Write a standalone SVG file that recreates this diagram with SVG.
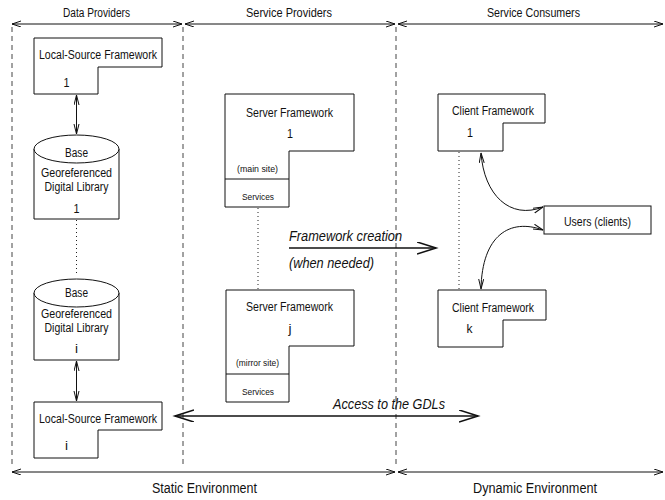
<svg xmlns="http://www.w3.org/2000/svg" width="665" height="500" viewBox="0 0 665 500">
<defs>
<style>
text{font-family:"Liberation Sans",Arial,sans-serif;fill:#111;text-anchor:middle}
.hd{font-size:12px}
.tt{font-size:12.5px}
.cy{font-size:12.5px}
.sm{font-size:9.5px}
.it{font-size:14.5px;font-style:italic;text-anchor:start}
.env{font-size:15.5px}
.box{fill:#fff;stroke:#111;stroke-width:1}
.ln{fill:none;stroke:#111;stroke-width:1}
.big{fill:none;stroke:#111;stroke-width:1.6}
.dash{fill:none;stroke:#444;stroke-width:1;stroke-dasharray:5 4}
.dot{fill:none;stroke:#222;stroke-width:1;stroke-dasharray:1 3}
</style>
<marker id="ms" markerUnits="userSpaceOnUse" markerWidth="12" markerHeight="8" refX="9" refY="3" orient="auto-start-reverse"><path d="M0,0 L9,3 L0,6" fill="none" stroke="#111" stroke-width="1"/></marker>
<marker id="mv" markerUnits="userSpaceOnUse" markerWidth="12" markerHeight="8" refX="10" refY="3" orient="auto-start-reverse"><path d="M0,0.5 L10,3 L0,5.5" fill="none" stroke="#111" stroke-width="1"/></marker>
<marker id="mb" markerUnits="userSpaceOnUse" markerWidth="22" markerHeight="14" refX="19" refY="6" orient="auto-start-reverse"><path d="M0,0 L19,6 L0,12" fill="none" stroke="#111" stroke-width="1.6"/></marker>
</defs>

<g id="frame">
<line class="dash" x1="12" y1="27" x2="12" y2="468"/>
<line class="dash" x1="183" y1="27" x2="183" y2="468"/>
<line class="dash" x1="396" y1="27" x2="396" y2="468"/>
<text class="hd" x="96.5" y="17" textLength="67" lengthAdjust="spacingAndGlyphs">Data Providers</text>
<text class="hd" x="289" y="17" textLength="86" lengthAdjust="spacingAndGlyphs">Service Providers</text>
<text class="hd" x="533.5" y="17" textLength="93" lengthAdjust="spacingAndGlyphs">Service Consumers</text>
<text class="env" x="204.5" y="493" textLength="105" lengthAdjust="spacingAndGlyphs">Static Environment</text>
<text class="env" x="535" y="493" textLength="124" lengthAdjust="spacingAndGlyphs">Dynamic Environment</text>
</g>

<g id="lsf1">
<path class="box" d="M34,38 H162 V67 H98 V94 H34 Z"/>
<text class="tt" x="98" y="59" textLength="118" lengthAdjust="spacingAndGlyphs">Local-Source Framework</text>
<text class="tt" x="66.5" y="87" textLength="6" lengthAdjust="spacingAndGlyphs">1</text>
</g>

<g id="gdl1">
<path class="box" d="M34,149 V219 H119 V149"/>
<ellipse class="box" cx="76.5" cy="149" rx="42.5" ry="14"/>
<text class="cy" x="76.5" y="157" textLength="23" lengthAdjust="spacingAndGlyphs">Base</text>
<text class="cy" x="76.5" y="177" textLength="71" lengthAdjust="spacingAndGlyphs">Georeferenced</text>
<text class="cy" x="76.5" y="191" textLength="64" lengthAdjust="spacingAndGlyphs">Digital Library</text>
<text class="tt" x="76.5" y="213" textLength="6" lengthAdjust="spacingAndGlyphs">1</text>
</g>

<g id="gdli">
<path class="box" d="M34,293 V360 H119 V293"/>
<ellipse class="box" cx="76.5" cy="293" rx="42.5" ry="14"/>
<text class="cy" x="76.5" y="297" textLength="23" lengthAdjust="spacingAndGlyphs">Base</text>
<text class="cy" x="76.5" y="318" textLength="71" lengthAdjust="spacingAndGlyphs">Georeferenced</text>
<text class="cy" x="76.5" y="332" textLength="64" lengthAdjust="spacingAndGlyphs">Digital Library</text>
<text class="tt" x="76.5" y="353" textLength="3" lengthAdjust="spacingAndGlyphs">i</text>
</g>

<g id="lsfi">
<path class="box" d="M34,402 H162 V430 H98 V458 H34 Z"/>
<text class="tt" x="98" y="423" textLength="118" lengthAdjust="spacingAndGlyphs">Local-Source Framework</text>
<text class="tt" x="66.5" y="450" textLength="3" lengthAdjust="spacingAndGlyphs">i</text>
</g>

<g id="server1">
<path class="box" d="M225,94 H354 V151 H289 V207 H225 Z"/>
<line class="ln" x1="225" y1="179" x2="289" y2="179"/>
<text class="tt" x="289.5" y="117" textLength="87" lengthAdjust="spacingAndGlyphs">Server Framework</text>
<text class="tt" x="290" y="138" textLength="6" lengthAdjust="spacingAndGlyphs">1</text>
<text class="sm" x="257.5" y="172" textLength="41" lengthAdjust="spacingAndGlyphs">(main site)</text>
<text class="sm" x="258" y="200" textLength="32" lengthAdjust="spacingAndGlyphs">Services</text>
</g>

<g id="serverj">
<path class="box" d="M226,290 H354 V346 H289 V402 H226 Z"/>
<line class="ln" x1="226" y1="374" x2="289" y2="374"/>
<text class="tt" x="289.5" y="311" textLength="87" lengthAdjust="spacingAndGlyphs">Server Framework</text>
<text class="tt" x="290" y="333" textLength="3" lengthAdjust="spacingAndGlyphs">j</text>
<text class="sm" x="257.5" y="366" textLength="43" lengthAdjust="spacingAndGlyphs">(mirror site)</text>
<text class="sm" x="258" y="395" textLength="32" lengthAdjust="spacingAndGlyphs">Services</text>
</g>

<g id="client1">
<path class="box" d="M438,94 H545 V123 H503 V151 H438 Z"/>
<text class="tt" x="493" y="115" textLength="82" lengthAdjust="spacingAndGlyphs">Client Framework</text>
<text class="tt" x="470" y="137" textLength="6" lengthAdjust="spacingAndGlyphs">1</text>
</g>

<g id="clientk">
<path class="box" d="M438,290 H546 V320 H503 V347 H438 Z"/>
<text class="tt" x="493" y="312" textLength="82" lengthAdjust="spacingAndGlyphs">Client Framework</text>
<text class="tt" x="469.5" y="333" textLength="6" lengthAdjust="spacingAndGlyphs">k</text>
</g>

<g id="users">
<rect class="box" x="544" y="206" width="107" height="28"/>
<text class="tt" x="597.5" y="226" textLength="67" lengthAdjust="spacingAndGlyphs">Users (clients)</text>
</g>

<g id="connectors">
<line class="ln" x1="12" y1="24" x2="182" y2="24" marker-start="url(#ms)" marker-end="url(#ms)"/>
<line class="ln" x1="185" y1="24" x2="395" y2="24" marker-start="url(#ms)" marker-end="url(#ms)"/>
<line class="ln" x1="398" y1="24" x2="663" y2="24" marker-start="url(#ms)" marker-end="url(#ms)"/>
<line class="ln" x1="12" y1="472" x2="395" y2="472" marker-start="url(#ms)" marker-end="url(#ms)"/>
<line class="ln" x1="398" y1="472" x2="663" y2="472" marker-start="url(#ms)" marker-end="url(#ms)"/>
<line class="ln" x1="76.5" y1="95" x2="76.5" y2="134" marker-start="url(#mv)" marker-end="url(#mv)"/>
<line class="ln" x1="76.5" y1="361" x2="76.5" y2="401" marker-start="url(#mv)" marker-end="url(#mv)"/>
<line class="dot" x1="76.5" y1="220" x2="76.5" y2="274"/>
<line class="dot" x1="258" y1="208" x2="258" y2="289"/>
<line class="dot" x1="459" y1="152" x2="459" y2="289"/>
<path class="ln" d="M481,153 C484,195 510,220 543,207" marker-start="url(#mv)" marker-end="url(#mv)"/>
<path class="ln" d="M543,230 C510,218 482,235 481,289" marker-start="url(#mv)" marker-end="url(#mv)"/>
<line class="big" x1="289" y1="248" x2="436" y2="248" marker-end="url(#mb)"/>
<line class="big" x1="175" y1="416" x2="478" y2="416" marker-start="url(#mb)" marker-end="url(#mb)"/>
<text class="it" x="289" y="241" textLength="113" lengthAdjust="spacingAndGlyphs">Framework creation</text>
<text class="it" x="289" y="268" textLength="85" lengthAdjust="spacingAndGlyphs">(when needed)</text>
<text class="it" x="333" y="409" textLength="112" lengthAdjust="spacingAndGlyphs">Access to the GDLs</text>
</g>
</svg>
